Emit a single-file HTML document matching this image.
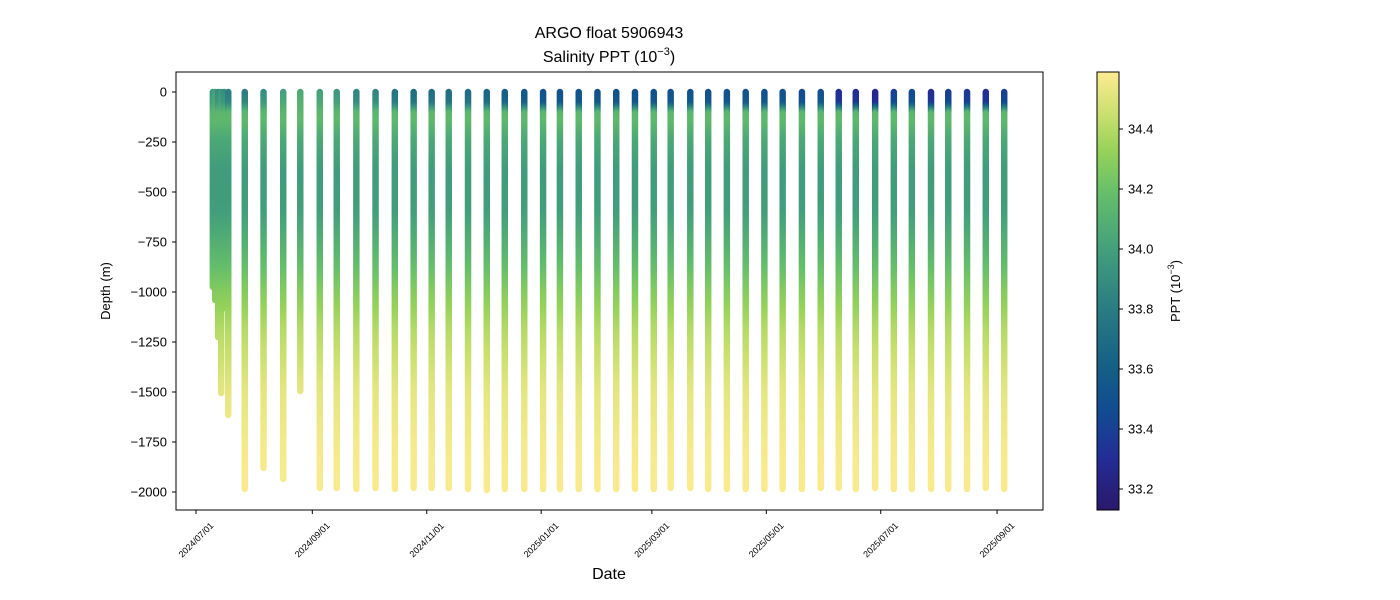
<!DOCTYPE html>
<html><head><meta charset="utf-8"><style>
body{margin:0;background:#fff;}
svg{display:block;font-family:"Liberation Sans","DejaVu Sans",sans-serif;}
</style></head><body>
<svg id="chart" width="1400" height="600">
<text x="609" y="38" text-anchor="middle" font-size="16">ARGO float 5906943</text>
<text x="609" y="62" text-anchor="middle" font-size="16">Salinity PPT (10<tspan dy="-7" font-size="11">−3</tspan><tspan dy="7">)</tspan></text>
<g id="marks"></g>
<rect x="176" y="72" width="867" height="438" fill="none" stroke="#000" stroke-width="1"/>
<g id="yaxis"></g>
<g id="xaxis"></g>
<text x="110" y="291" text-anchor="middle" font-size="13" transform="rotate(-90 110 291)">Depth (m)</text>
<text x="609" y="579" text-anchor="middle" font-size="16">Date</text>
<defs><linearGradient id="cb" x1="0" y1="1" x2="0" y2="0"></linearGradient></defs>
<rect x="1097" y="72" width="22" height="438" fill="url(#cb)" stroke="#000" stroke-width="1"/>
<g id="cbaxis"></g>
<text x="1180" y="291" text-anchor="middle" font-size="13" transform="rotate(-90 1180 291)">PPT (10<tspan dy="-6" font-size="9">−3</tspan><tspan dy="6">)</tspan></text>
</svg>
<script>
// days since 2024-07-01
const profileDays=[9,10.2,11.8,13.4,15,17.2,26,36,46.5,55.6,66,75,85.5,95.7,106,116,125.6,134.7,145,155,164.6,175,185,194,204,214,224,234,244,253,263.5,273,283,293,303,312.7,323,333,342.6,351.7,362,372,381.6,391.8,401,411,421,430.8];
const profileMaxDepth=[975,1040,1225,1505,1080,1615,1985,1880,1935,1495,1980,1980,1985,1980,1985,1980,1980,1980,1985,1990,1985,1985,1985,1985,1985,1985,1985,1985,1985,1980,1980,1985,1985,1985,1985,1985,1985,1980,1980,1985,1980,1985,1985,1985,1985,1985,1980,1985];
const profileSurfaceSal=[33.95,34.0,33.9,33.95,33.9,33.8,33.8,33.9,34.0,34.05,34.0,33.95,33.85,33.85,33.75,33.7,33.7,33.7,33.7,33.65,33.6,33.55,33.5,33.5,33.5,33.5,33.5,33.5,33.5,33.5,33.5,33.5,33.5,33.5,33.5,33.5,33.45,33.5,33.3,33.3,33.25,33.4,33.45,33.3,33.4,33.35,33.3,33.4];
const shapeDepths=[0,60,110,150,250,400,600,800,1000,1200,1500,1800,2000];
const shapeSal=[null,null,34.13,34.15,34.05,33.98,33.99,34.12,34.27,34.4,34.52,34.57,34.58];
const xTickLabels=["2024/07/01","2024/09/01","2024/11/01","2025/01/01","2025/03/01","2025/05/01","2025/07/01","2025/09/01"];
const xTickDays=[0,62,123,184,243,304,365,427];
const yTicks=[0,-250,-500,-750,-1000,-1250,-1500,-1750,-2000];
const cbTicks=[33.2,33.4,33.6,33.8,34.0,34.2,34.4];
const NS="http://www.w3.org/2000/svg";
const xS=d=>196+d*1.876;
const yS=v=>92-v*0.2;
const sMin=33.13,sMax=34.59;
const cbY=s=>510-(s-sMin)/(sMax-sMin)*438;
const stops=[[0,[42,24,108]],[0.12,[35,45,150]],[0.22,[18,74,145]],[0.32,[20,94,135]],[0.45,[40,122,130]],[0.59,[66,158,124]],[0.72,[100,190,106]],[0.82,[150,210,90]],[0.9,[200,223,110]],[1,[253,235,145]]];
function cmap(s){let t=Math.max(0,Math.min(1,(s-sMin)/(sMax-sMin)));
 for(let i=1;i<stops.length;i++){if(t<=stops[i][0]){const a=stops[i-1],b=stops[i],f=(t-a[0])/(b[0]-a[0]);
  return `rgb(${a[1].map((c,k)=>Math.round(c+(b[1][k]-c)*f)).join(',')})`;}}return 'rgb(253,235,145)';}
function salAt(depth,surf){const vals=shapeSal.map((v,i)=>i===0?surf:(i===1?surf+0.05:v));
 for(let i=1;i<shapeDepths.length;i++){if(depth<=shapeDepths[i]){const f=(depth-shapeDepths[i-1])/(shapeDepths[i]-shapeDepths[i-1]);return vals[i-1]+(vals[i]-vals[i-1])*f;}}return vals[vals.length-1];}
const g=document.getElementById('marks');
profileDays.forEach((d,p)=>{
 const grp=document.createElementNS(NS,'g');
 
 
 for(let z=0;z<=profileMaxDepth[p];z+=5){
  const c=document.createElementNS(NS,'circle');
  c.setAttribute('cx',xS(d));c.setAttribute('cy',yS(-z));c.setAttribute('r',3.2);
  c.setAttribute('fill',cmap(salAt(z,profileSurfaceSal[p])));
  grp.appendChild(c);}
 g.appendChild(grp);});
const ya=document.getElementById('yaxis');
yTicks.forEach(v=>{const y=yS(v);
 const l=document.createElementNS(NS,'line');l.setAttribute('x1',172);l.setAttribute('x2',176);l.setAttribute('y1',y);l.setAttribute('y2',y);l.setAttribute('stroke','#000');
 
 ya.appendChild(l);
 const t=document.createElementNS(NS,'text');t.setAttribute('x',167);t.setAttribute('y',y+4.5);t.setAttribute('text-anchor','end');t.setAttribute('font-size','13');t.textContent=String(v).replace('-','−');
 
 ya.appendChild(t);});
const xa=document.getElementById('xaxis');
xTickDays.forEach((d,i)=>{const x=xS(d);
 const l=document.createElementNS(NS,'line');l.setAttribute('x1',x);l.setAttribute('x2',x);l.setAttribute('y1',510);l.setAttribute('y2',514);l.setAttribute('stroke','#000');
 
 xa.appendChild(l);
 const t=document.createElementNS(NS,'text');t.setAttribute('x',x);t.setAttribute('y',543);t.setAttribute('text-anchor','middle');t.setAttribute('font-size','9');
 t.setAttribute('transform',`rotate(-45 ${x} 540)`);t.textContent=xTickLabels[i];
 
 xa.appendChild(t);});
const gr=document.getElementById('cb');
stops.forEach(s=>{const st=document.createElementNS(NS,'stop');st.setAttribute('offset',s[0]);st.setAttribute('stop-color',`rgb(${s[1].join(',')})`);gr.appendChild(st);});
const ca=document.getElementById('cbaxis');
cbTicks.forEach(v=>{const y=cbY(v);
 const l=document.createElementNS(NS,'line');l.setAttribute('x1',1119);l.setAttribute('x2',1123);l.setAttribute('y1',y);l.setAttribute('y2',y);l.setAttribute('stroke','#000');
 
 ca.appendChild(l);
 const t=document.createElementNS(NS,'text');t.setAttribute('x',1128);t.setAttribute('y',y+4.5);t.setAttribute('font-size','13');t.textContent=v.toFixed(1);
 
 ca.appendChild(t);});
</script>
</body></html>
